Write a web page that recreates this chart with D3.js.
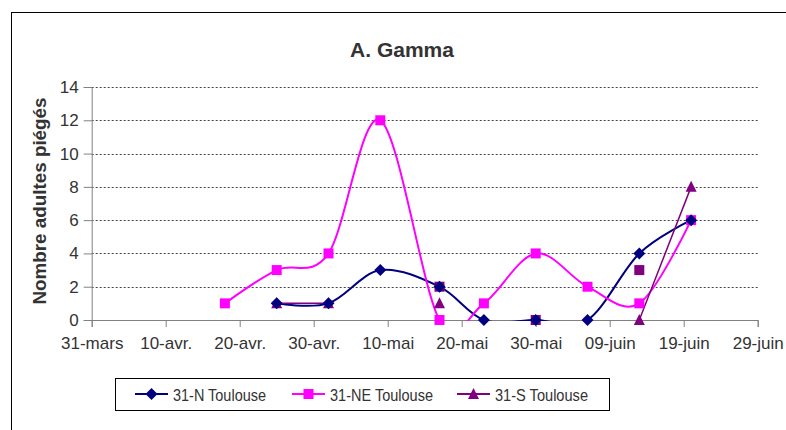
<!DOCTYPE html>
<html><head><meta charset="utf-8">
<script src="https://cdn.jsdelivr.net/npm/d3@7"></script>
<style>body{margin:0;background:#fff}text{font-family:"Liberation Sans",Arial,sans-serif}</style>
</head><body>
<svg id="c" width="786" height="430"></svg>
<script>
const dates = ["2007-04-18","2007-04-25","2007-05-02","2007-05-09","2007-05-17","2007-05-23","2007-05-30","2007-06-06","2007-06-13","2007-06-20"];
const nToulouse  = [null, 1, 1, 3, 2, 0, 0, 0, 4, 6];
const neToulouse = [1, 3, 4, 12, 0, 1, 4, 2, 1, 6];
const sToulouse  = [null, 1, 1, null, 1, null, null, null, 0, 8];
const sToulouseSquares = [null, null, null, null, 2, null, 0, null, 3, null];
const xTickDates  = ["2007-03-31","2007-04-10","2007-04-20","2007-04-30","2007-05-10","2007-05-20","2007-05-30","2007-06-09","2007-06-19","2007-06-29"];
const xTickLabels = ["31-mars","10-avr.","20-avr.","30-avr.","10-mai","20-mai","30-mai","09-juin","19-juin","29-juin"];
const yTicks = [0, 2, 4, 6, 8, 10, 12, 14];
const seriesNames = ["31-N Toulouse", "31-NE Toulouse", "31-S Toulouse"];
const title = "A. Gamma";
const yTitle = "Nombre adultes piégés";

const parse = d3.utcParse("%Y-%m-%d");
const svg = d3.select("#c");
const L = 91.7, R = 757.7, T = 87, B = 320;
const x = d3.scaleUtc().domain([parse(xTickDates[0]), parse(xTickDates[xTickDates.length-1])]).range([L, R]);
const y = d3.scaleLinear().domain([0, 14]).range([B, T]);
const txt = "#333";

// outer frame
svg.append("rect").attr("x", 11.5).attr("y", 12.5).attr("width", 800).attr("height", 500)
  .attr("fill", "none").attr("stroke", "#000").attr("stroke-width", 1);

// title
svg.append("text").attr("x", 402).attr("y", 57).attr("text-anchor", "middle")
  .attr("font-size", 21).attr("font-weight", "bold").attr("fill", txt).text(title);

// y title
svg.append("text").attr("transform", "translate(46,201) rotate(-90)").attr("text-anchor", "middle")
  .attr("font-size", 18).attr("font-weight", "bold").attr("fill", txt)
  .attr("textLength", 207).attr("lengthAdjust", "spacingAndGlyphs").text(yTitle);

// gridlines
svg.append("g").selectAll("line").data(yTicks).join("line")
  .attr("x1", L).attr("x2", R).attr("y1", d => Math.round(y(d)) + 0.5).attr("y2", d => Math.round(y(d)) + 0.5)
  .attr("stroke", "#444").attr("stroke-dasharray", "2,2").attr("stroke-width", 1);

// y axis
const yAxis = d3.axisLeft(y).tickValues(yTicks).tickSize(8).tickPadding(5).tickFormat(d3.format("d"));
const gy = svg.append("g").attr("transform", `translate(${L},0)`).call(yAxis);
gy.select(".domain").attr("stroke", "#808080");
gy.selectAll(".tick line").attr("stroke", "#808080");
gy.selectAll(".tick text").attr("font-size", 17).attr("fill", txt).attr("font-family", '"Liberation Sans",Arial,sans-serif');

// x axis
const xAxis = d3.axisBottom(x).tickValues(xTickDates.map(parse)).tickSize(7).tickPadding(10)
  .tickFormat((d, i) => xTickLabels[i]);
const gx = svg.append("g").attr("transform", `translate(0,${B})`).call(xAxis);
gx.select(".domain").attr("stroke", "#808080");
gx.selectAll(".tick line").attr("stroke", "#808080");
gx.selectAll(".tick text").attr("font-size", 17).attr("fill", txt).attr("font-family", '"Liberation Sans",Arial,sans-serif');
gx.selectAll(".tick text").attr("dy", "0.71em");

// clip
svg.append("clipPath").attr("id", "plotclip").append("rect")
  .attr("x", L).attr("y", T - 20).attr("width", R - L).attr("height", B - T + 21);

const dts = dates.map(parse);
const mk = vals => vals.map((v, i) => ({ d: dts[i], v }));
const series = [
  { name: seriesNames[0], data: mk(nToulouse), color: "#000080", w: 2, shape: "diamond", len: 93 },
  { name: seriesNames[1], data: mk(neToulouse), color: "#FF00FF", w: 2, shape: "square", len: 103 },
  { name: seriesNames[2], data: mk(sToulouse), color: "#800080", w: 1.5, shape: "triangle", len: 93 },
];
const extra = { data: mk(sToulouseSquares), color: "#800080", shape: "square" };

const lines = svg.append("g").attr("clip-path", "url(#plotclip)");
series.forEach(s => {
  const line = d3.line().defined(p => p.v !== null).x(p => x(p.d)).y(p => y(p.v))
    .curve(d3.curveCardinal.tension(0));
  lines.append("path").attr("d", line(s.data)).attr("fill", "none")
    .attr("stroke", s.color).attr("stroke-width", s.w);
});

function shapePath(shape) {
  if (shape === "diamond") return "M0,-6L6,0L0,6L-6,0Z";
  if (shape === "square") return "M-5,-5H5V5H-5Z";
  return "M0,-6L5.5,5H-5.5Z";
}
function drawMarkers(data, color, shape) {
  svg.append("g").selectAll("path").data(data.filter(p => p.v !== null)).join("path")
    .attr("transform", p => `translate(${x(p.d)},${y(p.v)})`)
    .attr("d", shapePath(shape)).attr("fill", color);
}
drawMarkers(extra.data, extra.color, extra.shape);
drawMarkers(series[2].data, series[2].color, series[2].shape);
drawMarkers(series[1].data, series[1].color, series[1].shape);
drawMarkers(series[0].data, series[0].color, series[0].shape);

// legend
svg.append("rect").attr("x", 115.5).attr("y", 378.5).attr("width", 494).attr("height", 32)
  .attr("fill", "#fff").attr("stroke", "#000").attr("stroke-width", 1);
const legX = [135, 292, 457];
series.forEach((s, i) => {
  const g = svg.append("g").attr("transform", `translate(${legX[i]},394)`);
  g.append("line").attr("x1", 0).attr("x2", 33).attr("stroke", s.color).attr("stroke-width", 2);
  g.append("path").attr("transform", "translate(16.5,0)").attr("d", shapePath(s.shape)).attr("fill", s.color);
  g.append("text").attr("x", 38).attr("y", 6.5).attr("font-size", 17).attr("fill", txt)
    .attr("textLength", s.len).attr("lengthAdjust", "spacingAndGlyphs").text(s.name);
});
</script>
</body></html>
